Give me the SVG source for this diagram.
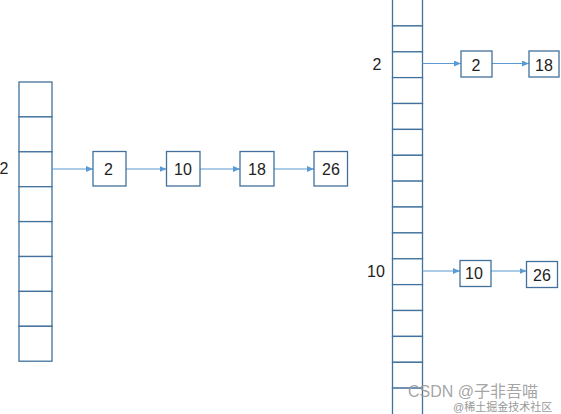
<svg xmlns="http://www.w3.org/2000/svg" width="561" height="414" viewBox="0 0 561 414">
<style>
.cell{fill:#fff;stroke:#41719C;stroke-width:1.3}
.box{fill:#fff;stroke:#41719C;stroke-width:1.3}
.t{font-family:"Liberation Sans",Arial,sans-serif;font-size:16px;fill:#222;text-anchor:middle;dominant-baseline:central}
.edge{stroke:#5B9BD5;stroke-width:1.1;fill:none;marker-end:url(#ah)}
.wm{font-family:"Liberation Sans","Noto Sans CJK SC",sans-serif;fill:#999}
</style>
<defs>
<marker id="ah" markerWidth="7" markerHeight="6" refX="7" refY="3" orient="auto" markerUnits="userSpaceOnUse">
<path d="M0,0 L7,3 L0,6 z" fill="#5B9BD5"/>
</marker>
</defs>
<rect width="561" height="414" fill="#fff"/>
<g id="left-array">
<rect class="cell" x="19" y="82" width="33" height="34.9"/>
<rect class="cell" x="19" y="116.9" width="33" height="34.9"/>
<rect class="cell" x="19" y="151.8" width="33" height="34.9"/>
<rect class="cell" x="19" y="186.7" width="33" height="34.9"/>
<rect class="cell" x="19" y="221.6" width="33" height="34.9"/>
<rect class="cell" x="19" y="256.5" width="33" height="34.9"/>
<rect class="cell" x="19" y="291.4" width="33" height="34.9"/>
<rect class="cell" x="19" y="326.3" width="33" height="34.9"/>
<text class="t" x="4" y="168">2</text>
</g>
<g id="right-array">
<rect class="cell" x="392.5" y="-1" width="30" height="26.9"/>
<rect class="cell" x="392.5" y="25.9" width="30" height="25.9"/>
<rect class="cell" x="392.5" y="51.8" width="30" height="25.9"/>
<rect class="cell" x="392.5" y="77.6" width="30" height="25.9"/>
<rect class="cell" x="392.5" y="103.5" width="30" height="25.9"/>
<rect class="cell" x="392.5" y="129.4" width="30" height="25.9"/>
<rect class="cell" x="392.5" y="155.3" width="30" height="25.9"/>
<rect class="cell" x="392.5" y="181.1" width="30" height="25.9"/>
<rect class="cell" x="392.5" y="207" width="30" height="25.9"/>
<rect class="cell" x="392.5" y="232.9" width="30" height="25.9"/>
<rect class="cell" x="392.5" y="258.8" width="30" height="25.9"/>
<rect class="cell" x="392.5" y="284.6" width="30" height="25.9"/>
<rect class="cell" x="392.5" y="310.5" width="30" height="25.9"/>
<rect class="cell" x="392.5" y="336.4" width="30" height="25.9"/>
<rect class="cell" x="392.5" y="362.3" width="30" height="25.9"/>
<rect class="cell" x="392.5" y="388.1" width="30" height="26.9"/>
<text class="t" x="377" y="64">2</text>
<text class="t" x="376" y="271">10</text>
</g>
<g id="connectors">
<line class="edge" x1="52" y1="169" x2="93" y2="169"/>
<line class="edge" x1="126" y1="169" x2="166.5" y2="169"/>
<line class="edge" x1="200" y1="169" x2="240" y2="169"/>
<line class="edge" x1="274" y1="169" x2="314" y2="169"/>
<line class="edge" x1="422.5" y1="63.5" x2="461" y2="63.5"/>
<line class="edge" x1="492" y1="63.5" x2="529" y2="63.5"/>
<line class="edge" x1="422.5" y1="271" x2="460" y2="271"/>
<line class="edge" x1="491" y1="271" x2="526.5" y2="271"/>
</g>
<g id="node-l2"><rect class="box" x="93" y="151.5" width="33" height="34.5"/><text class="t" x="108.5" y="169">2</text></g>
<g id="node-l10"><rect class="box" x="166.5" y="151.5" width="33.5" height="34.5"/><text class="t" x="183" y="169">10</text></g>
<g id="node-l18"><rect class="box" x="240" y="151.5" width="34" height="34.5"/><text class="t" x="257" y="169">18</text></g>
<g id="node-l26"><rect class="box" x="314" y="151.5" width="33.5" height="34.5"/><text class="t" x="331" y="169">26</text></g>
<g id="node-r2"><rect class="box" x="461" y="51" width="31" height="26"/><text class="t" x="476" y="65">2</text></g>
<g id="node-r18"><rect class="box" x="529" y="51" width="30" height="26"/><text class="t" x="544" y="65">18</text></g>
<g id="node-r10"><rect class="box" x="460" y="260.5" width="31" height="26"/><text class="t" x="474" y="273">10</text></g>
<g id="node-r26"><rect class="box" x="526.5" y="261.5" width="31" height="26"/><text class="t" x="542" y="275">26</text></g>
<text class="wm" x="408" y="397" font-size="16" fill-opacity="0.9">CSDN @子非吾喵</text>
<text class="wm" x="453" y="411" font-size="11" fill="#bbb">@稀土掘金技术社区</text>
</svg>
